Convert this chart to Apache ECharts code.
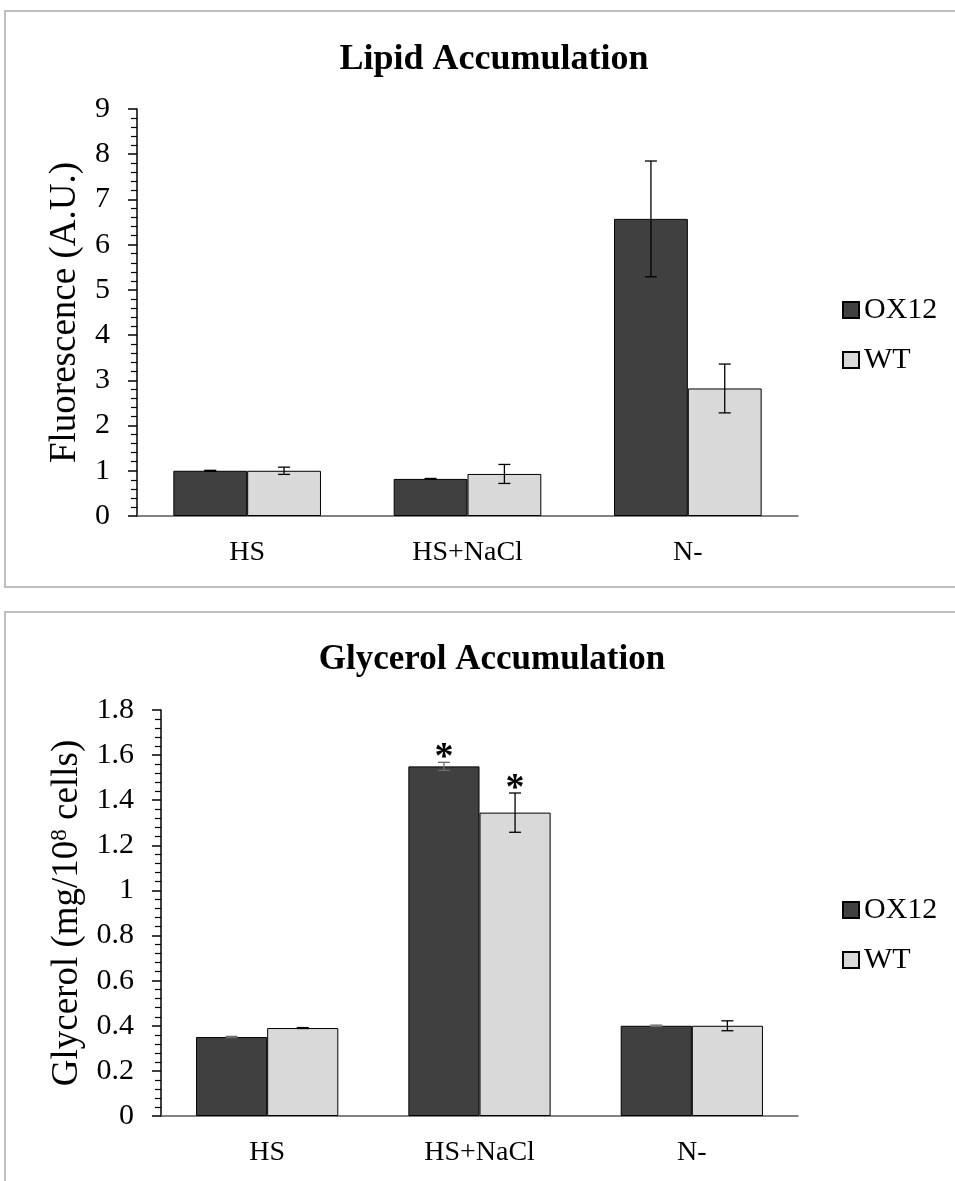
<!DOCTYPE html>
<html>
<head>
    <meta charset="utf-8">
    <title>Lipid / Glycerol</title>
    <script src="https://cdn.jsdelivr.net/npm/echarts@6/dist/echarts.min.js"></script>
    <style>
        html, body { margin: 0; padding: 0; background: #fff; overflow: hidden; }
    </style>
</head>
<body>
<div id="main" style="width: 955px;height:1181px;"></div>
<script type="text/javascript">
    // categories and series
    var categories = ['HS', 'HS+NaCl', 'N-'];
    var seriesNames = ['OX12', 'WT'];

    // lipid: fluorescence (A.U.)
    var lipidOX = [1.0, 0.82, 6.57];
    var lipidOXErr = [0.01, 0.01, 1.28];
    var lipidWT = [1.0, 0.93, 2.82];
    var lipidWTErr = [0.08, 0.21, 0.54];

    // glycerol (mg/10^8 cells)
    var glyOX = [0.35, 1.55, 0.40];
    var glyOXErr = [0.003, 0.018, 0.003];
    var glyWT = [0.39, 1.345, 0.40];
    var glyWTErr = [0.002, 0.087, 0.022];
    var glyOXSig = [0, 1, 0];
    var glyWTSig = [0, 1, 0];

    var lipidTicks = [0, 9, 1];
    var glyTicks = [0, 1.8, 0.2];

    var FONT = 'Liberation Serif';
    var GAP = 0.33;

    function errData(vals, errs, sig) {
        return vals.map(function (v, i) { return [i, v, errs[i], sig ? sig[i] : 0]; });
    }

    function errRender(sign, color) {
        return function (params, api) {
            var i = api.value(0), v = api.value(1), e = api.value(2), s = api.value(3);
            var band = api.size([1, 0])[0];
            var bw = band * (1 - GAP) / 2;
            var x = api.coord([i, v])[0] + sign * bw / 2;
            var top = api.coord([i, v + e])[1];
            var bot = api.coord([i, v - e])[1];
            var st = { stroke: color, lineWidth: 1.3 };
            var kids = [
                { type: 'line', shape: { x1: x, y1: top, x2: x, y2: bot }, style: st },
                { type: 'line', shape: { x1: x - 6, y1: top, x2: x + 6, y2: top }, style: st },
                { type: 'line', shape: { x1: x - 6, y1: bot, x2: x + 6, y2: bot }, style: st }
            ];
            if (s) {
                kids.push({
                    type: 'text',
                    style: { text: '*', x: x, y: top - 4, align: 'center', verticalAlign: 'middle',
                        font: 'bold 38px "' + FONT + '"', fill: '#000' }
                });
            }
            return { type: 'group', children: kids };
        };
    }

    function yAxisCfg(idx, t, name, nameGap) {
        return {
            type: 'value', gridIndex: idx, min: t[0], max: t[1], interval: t[2],
            name: name, nameLocation: 'middle', nameGap: nameGap, nameRotate: 90,
            nameTextStyle: {
                fontFamily: FONT, fontSize: 37, color: '#000',
                rich: {
                    a: { fontFamily: FONT, fontSize: 37, color: '#000' },
                    s: { fontFamily: FONT, fontSize: 23, color: '#000', verticalAlign: 'top', padding: [0, 0, 14, 0] }
                }
            },
            axisLine: { show: true, lineStyle: { color: '#000', width: 1.5 } },
            axisTick: { show: true, length: 9, lineStyle: { color: '#000', width: 1.5 } },
            minorTick: { show: true, splitNumber: 5, length: 6, lineStyle: { color: '#000', width: 1.2 } },
            splitLine: { show: false },
            axisLabel: { margin: 27, fontFamily: FONT, fontSize: 30, color: '#000' }
        };
    }

    function xAxisCfg(idx) {
        return {
            type: 'category', gridIndex: idx, data: categories,
            axisLine: { show: true, lineStyle: { color: '#595959', width: 1.5 } },
            axisTick: { show: false },
            axisLabel: { margin: 23, fontFamily: FONT, fontSize: 28, color: '#000' }
        };
    }

    function barSeries(name, idx, vals, color) {
        return {
            name: name, type: 'bar', xAxisIndex: idx, yAxisIndex: idx, data: vals,
            barGap: '0%', barCategoryGap: (GAP * 100) + '%',
            itemStyle: { color: color, borderColor: '#000', borderWidth: 1 }
        };
    }

    function errSeries(idx, data, sign, color) {
        return {
            type: 'custom', xAxisIndex: idx, yAxisIndex: idx, z: 5,
            renderItem: errRender(sign, color), data: data, silent: true
        };
    }

    var legendCommon = {
        orient: 'vertical', icon: 'rect', itemWidth: 16, itemHeight: 16, itemGap: 20, padding: 0,
        data: seriesNames, selectedMode: false,
        textStyle: { fontFamily: FONT, fontSize: 30, color: '#000', lineHeight: 30 }
    };

    var myChart = echarts.init(document.getElementById('main'));
    var option = {
        animation: false,
        backgroundColor: '#fff',
        graphic: [
            { type: 'rect', shape: { x: 5, y: 11, width: 960, height: 576 }, style: { fill: 'none', stroke: '#bfbfbf', lineWidth: 2 } },
            { type: 'rect', shape: { x: 5, y: 612, width: 960, height: 600 }, style: { fill: 'none', stroke: '#bfbfbf', lineWidth: 2 } }
        ],
        title: [
            { text: 'Lipid Accumulation', left: 489, top: 37, textAlign: 'center',
              textStyle: { fontFamily: FONT, fontWeight: 'bold', fontSize: 36, color: '#000' } },
            { text: 'Glycerol Accumulation', left: 487, top: 637, textAlign: 'center',
              textStyle: { fontFamily: FONT, fontWeight: 'bold', fontSize: 35, color: '#000' } }
        ],
        legend: [
            Object.assign({}, legendCommon, { left: 842, top: 295 }),
            Object.assign({}, legendCommon, { left: 842, top: 895 })
        ],
        grid: [
            { left: 137, top: 109, width: 661, height: 407 },
            { left: 161, top: 710, width: 637, height: 406 }
        ],
        xAxis: [xAxisCfg(0), xAxisCfg(1)],
        yAxis: [
            yAxisCfg(0, lipidTicks, 'Fluorescence (A.U.)', 53),
            yAxisCfg(1, glyTicks, '{a|Glycerol (mg/10}{s|8}{a| cells)}', 75)
        ],
        series: [
            barSeries('OX12', 0, lipidOX, '#404040'),
            barSeries('WT', 0, lipidWT, '#d9d9d9'),
            errSeries(0, errData(lipidOX, lipidOXErr), -1, '#000'),
            errSeries(0, errData(lipidWT, lipidWTErr), 1, '#000'),
            barSeries('OX12', 1, glyOX, '#404040'),
            barSeries('WT', 1, glyWT, '#d9d9d9'),
            errSeries(1, errData(glyOX, glyOXErr, glyOXSig), -1, '#6e6e6e'),
            errSeries(1, errData(glyWT, glyWTErr, glyWTSig), 1, '#000')
        ]
    };
    myChart.setOption(option);
</script>
</body>
</html>
